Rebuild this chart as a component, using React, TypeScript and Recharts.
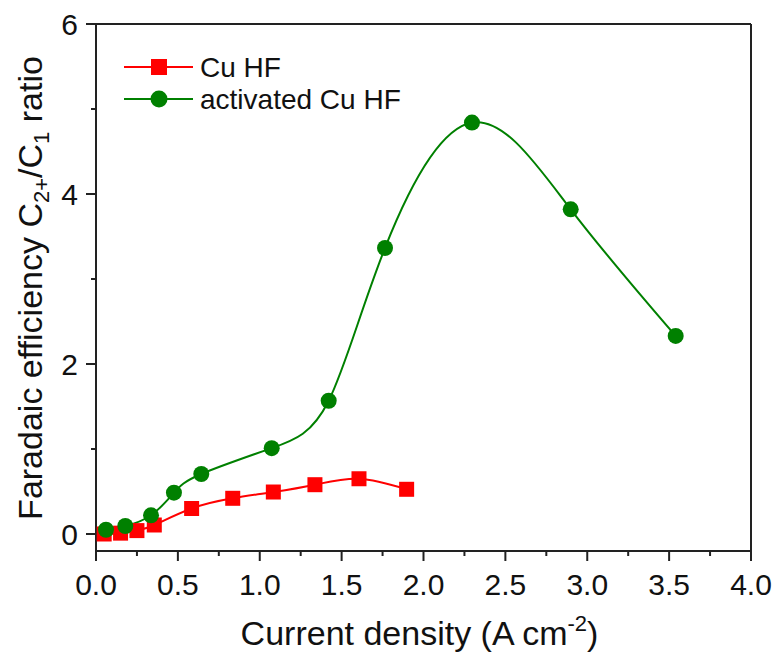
import { Legend, Line, LineChart, ReferenceLine, XAxis, YAxis } from "recharts";

const RED = "#ff0000";
const GREEN = "#008000";
const FONT = "'Liberation Sans', Arial, sans-serif";

// Cu HF
const cuX = [0.05, 0.15, 0.25, 0.356, 0.584, 0.835, 1.083, 1.337, 1.606, 1.897];
const cuY = [0.0, 0.01, 0.04, 0.106, 0.3, 0.42, 0.494, 0.58, 0.65, 0.526];

// activated Cu HF
const actX = [0.061, 0.179, 0.336, 0.476, 0.643, 1.073, 1.421, 1.765, 2.296, 2.899, 3.54];
const actY = [0.05, 0.094, 0.22, 0.486, 0.706, 1.01, 1.568, 3.365, 4.84, 3.82, 2.33];

const xTicks = [0, 0.25, 0.5, 0.75, 1, 1.25, 1.5, 1.75, 2, 2.25, 2.5, 2.75, 3, 3.25, 3.5, 3.75, 4];
const yTicks = [0, 1, 2, 3, 4, 5, 6];

const cuData = cuX.map((x, i) => ({ x, y: cuY[i] }));
const actData = actX.map((x, i) => ({ x, y: actY[i] }));

function XTick({ x, y, payload }: any) {
  const v = payload.value;
  const major = Math.abs(v * 2 - Math.round(v * 2)) < 1e-6;
  return (
    <g>
      <line x1={x} x2={x} y1={y} y2={y + (major ? 10 : 5)} stroke="#222" strokeWidth={2} />
      {major && (
        <text x={x} y={y + 44} textAnchor="middle" fontSize={30} fontFamily={FONT} fill="#111">
          {v.toFixed(1)}
        </text>
      )}
    </g>
  );
}

function YTick({ x, y, payload }: any) {
  const v = payload.value;
  const major = v % 2 === 0;
  return (
    <g>
      <line x1={x} x2={x - (major ? 10 : 5)} y1={y} y2={y} stroke="#222" strokeWidth={2} />
      {major && (
        <text x={x - 18} y={y + 11} textAnchor="end" fontSize={30} fontFamily={FONT} fill="#111">
          {v}
        </text>
      )}
    </g>
  );
}

function Square({ cx, cy }: any) {
  if (cx == null || cy == null) return null;
  return <rect x={cx - 7.5} y={cy - 7.5} width={15} height={15} fill={RED} />;
}

function LegendBox({ payload }: any) {
  return (
    <svg width={330} height={80}>
      {(payload || []).map((p: any, i: number) => {
        const cy = 13 + i * 32;
        return (
          <g key={p.value}>
            <line x1={0} x2={69} y1={cy} y2={cy} stroke={p.color} strokeWidth={2} />
            {p.color === RED ? (
              <rect x={27} y={cy - 8} width={16} height={16} fill={RED} />
            ) : (
              <circle cx={35} cy={cy} r={8.5} fill={GREEN} />
            )}
            <text x={76} y={cy + 10} fontSize={28} fontFamily={FONT} fill="#111">
              {p.value}
            </text>
          </g>
        );
      })}
    </svg>
  );
}

export default function App() {
  return (
    <div style={{ position: "absolute", left: 0, top: 0, background: "#fff" }}>
      <LineChart width={777} height={661} margin={{ top: 24, right: 26, bottom: 0, left: 0 }}>
        <XAxis
          type="number"
          dataKey="x"
          domain={[0, 4]}
          ticks={xTicks}
          interval={0}
          height={110}
          tickSize={0}
          tickMargin={0}
          axisLine={{ stroke: "#222", strokeWidth: 2 }}
          tickLine={false}
          tick={<XTick />}
          allowDataOverflow
          label={{
            content: ({ viewBox }: any) => (
              <text
                x={viewBox.x + viewBox.width / 2 - 4}
                y={viewBox.y + 94}
                textAnchor="middle"
                fontSize={34}
                fontFamily={FONT}
                fill="#111"
              >
                Current density (A cm
                <tspan fontSize={22} dy={-14}>-2</tspan>
                <tspan dy={14}>)</tspan>
              </text>
            ),
          }}
        />
        <YAxis
          type="number"
          dataKey="y"
          domain={[-0.2, 6]}
          ticks={yTicks}
          interval={0}
          width={96}
          tickSize={0}
          tickMargin={0}
          axisLine={{ stroke: "#222", strokeWidth: 2 }}
          tickLine={false}
          tick={<YTick />}
          allowDataOverflow
          label={{
            content: () => {
              const cx = 42;
              const cy = 288;
              return (
                <text
                  x={cx}
                  y={cy}
                  transform={`rotate(-90 ${cx} ${cy})`}
                  textAnchor="middle"
                  fontSize={34}
                  fontFamily={FONT}
                  fill="#111"
                >
                  Faradaic efficiency C
                  <tspan fontSize={22} dy={7}>2+</tspan>
                  <tspan dy={-7}>/C</tspan>
                  <tspan fontSize={22} dy={7}>1</tspan>
                  <tspan dy={-7}> ratio</tspan>
                </text>
              );
            },
          }}
        />
        <ReferenceLine y={6} stroke="#222" strokeWidth={2} />
        <ReferenceLine x={4} stroke="#222" strokeWidth={2} />
        <Legend
          layout="vertical"
          verticalAlign="middle"
          align="center"
          content={<LegendBox />}
          wrapperStyle={{ left: 124, top: 54, width: 330, height: 80 }}
        />
        <Line
          data={cuData}
          dataKey="y"
          name="Cu HF"
          type="natural"
          stroke={RED}
          strokeWidth={2}
          dot={<Square />}
          activeDot={false}
          isAnimationActive={false}
        />
        <Line
          data={actData}
          dataKey="y"
          name="activated Cu HF"
          type="natural"
          stroke={GREEN}
          strokeWidth={2}
          dot={{ r: 8, fill: GREEN, stroke: GREEN, strokeWidth: 0 }}
          activeDot={false}
          isAnimationActive={false}
        />
      </LineChart>
    </div>
  );
}
